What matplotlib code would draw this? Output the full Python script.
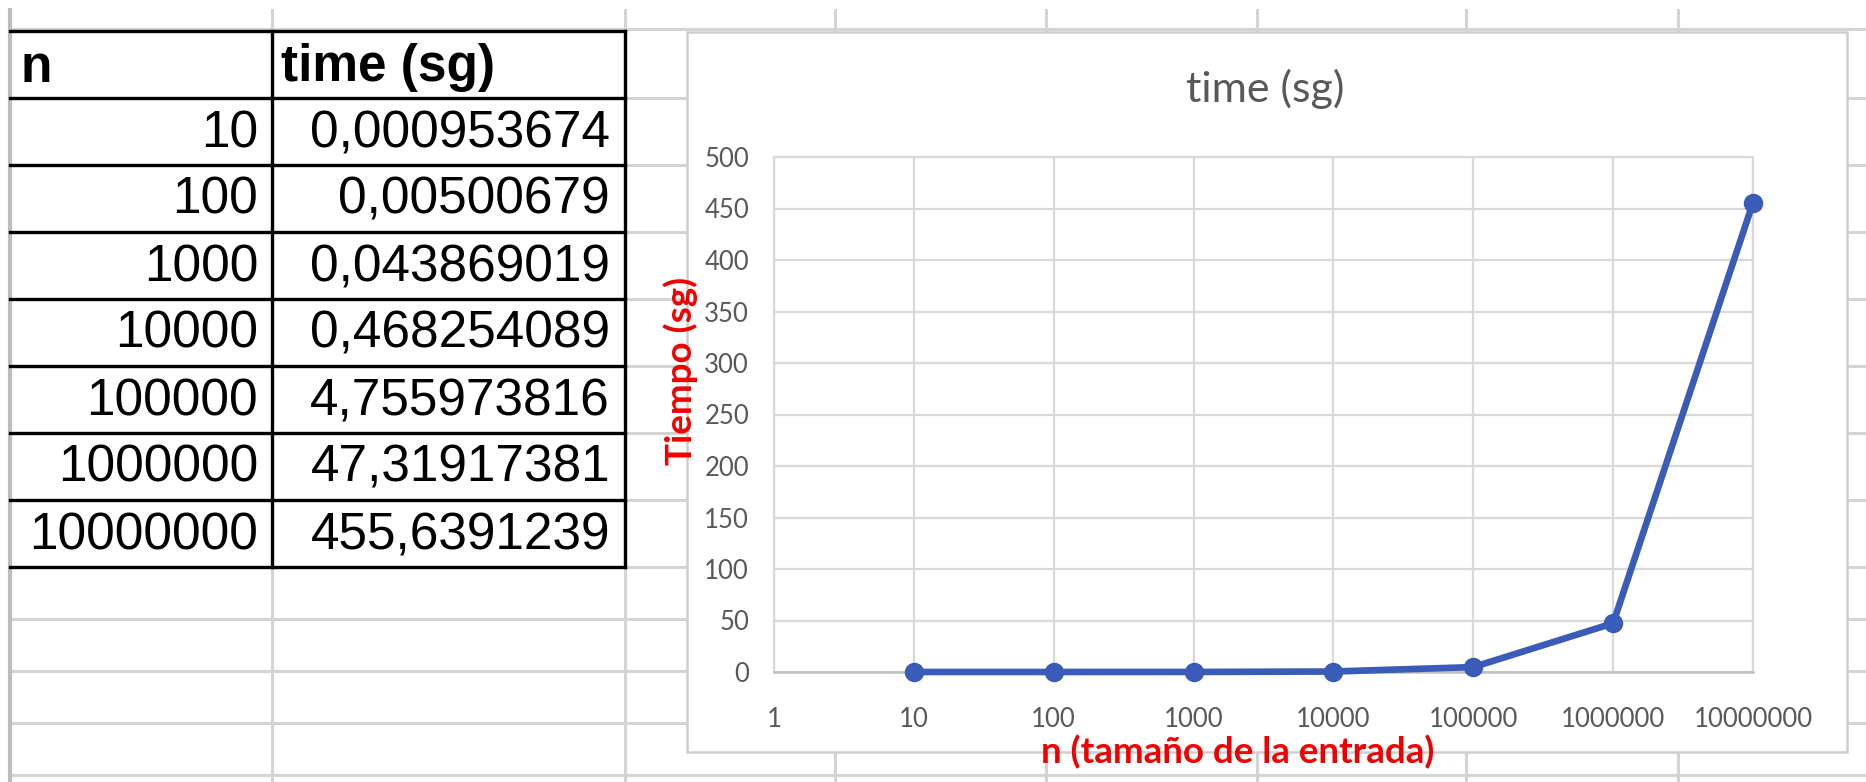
import numpy as np
import matplotlib.pyplot as plt
from matplotlib.patches import Rectangle
from matplotlib.ticker import NullLocator

# Data from the spreadsheet
n_vals = [10, 100, 1000, 10000, 100000, 1000000, 10000000]
time_sg = [0.000953674, 0.00500679, 0.043869019, 0.468254089,
           4.755973816, 47.31917381, 455.6391239]
time_txt = ['0,000953674', '0,00500679', '0,043869019', '0,468254089',
            '4,755973816', '47,31917381', '455,6391239']
x_ticks = [1, 10, 100, 1000, 10000, 100000, 1000000, 10000000]
x_tick_labels = ['1', '10', '100', '1000', '10000', '100000', '1000000', '10000000']
y_ticks = [0, 50, 100, 150, 200, 250, 300, 350, 400, 450, 500]

W, H = 1866, 782
fig = plt.figure(figsize=(W / 100, H / 100), dpi=100)

# Background: the spreadsheet grid (pixel coordinates)
bg = fig.add_axes([0, 0, 1, 1])
bg.set_xlim(0, W)
bg.set_ylim(H, 0)
bg.axis('off')

grid_c = '#d4d4d4'
row_y = [29, 98, 165, 232, 299, 366, 433, 500, 567, 619, 671, 723, 775]
col_x = [272, 625, 835, 1046, 1257, 1466, 1678]
for y in row_y:
    bg.plot([9.5, W], [y, y], color=grid_c, lw=2.2, zorder=1)
for x in col_x:
    bg.plot([x, x], [10, H], color=grid_c, lw=2.2, zorder=1)
bg.plot([9.5, 9.5], [10, H], color='#bdbdbd', lw=3, zorder=1)

# Table borders
tab_rows = [31, 98, 165, 232, 299, 366, 433, 500, 567]
for y in tab_rows:
    bg.plot([9.5, 625], [y, y], color='black', lw=2.4, zorder=2)
for x in [272, 625]:
    bg.plot([x, x], [31, 567], color='black', lw=2.4, zorder=2)

tfont = 'Liberation Sans'
bg.text(20, 68, 'n', fontsize=37, fontweight='bold', family=tfont, va='center', zorder=3)
bg.text(281, 68, 'time (sg)', fontsize=37, fontweight='bold', family=tfont, va='center', zorder=3)
for i in range(len(n_vals)):
    yc = (tab_rows[i + 1] + tab_rows[i + 2]) / 2 + 2
    bg.text(258, yc, str(n_vals[i]), fontsize=37, family=tfont, ha='right', va='center', zorder=3)
    bg.text(610, yc, time_txt[i], fontsize=37, family=tfont, ha='right', va='center', zorder=3)

# Chart box
bg.add_patch(Rectangle((687, 32), 1160, 720, facecolor='white', edgecolor='#cfcfcf', lw=1.8, zorder=5))

# Chart
ax = fig.add_axes([774 / W, 1 - 672 / H, 979 / W, 515 / H])
ax.set_facecolor('none')
ax.set_xscale('log')
ax.set_xlim(1, 1e7)
ax.set_ylim(0, 500)
ax.plot(n_vals, time_sg, color='#3a5cb8', lw=4.8, marker='o', markersize=13,
        solid_joinstyle='round', clip_on=False, zorder=4)
ax.set_xticks(x_ticks)
ax.set_xticklabels(x_tick_labels)
ax.xaxis.set_minor_locator(NullLocator())
ax.set_yticks(y_ticks)
ax.grid(color='#d9d9d9', lw=1.6)
ax.set_axisbelow(True)
for s in ['left', 'top', 'right']:
    ax.spines[s].set_color('#d9d9d9')
    ax.spines[s].set_linewidth(1.6)
ax.spines['bottom'].set_color('#bfbfbf')
ax.spines['bottom'].set_linewidth(1.8)
ax.tick_params(length=0, labelsize=18.5, labelcolor='#595959')
ax.tick_params(axis='x', pad=25)
ax.tick_params(axis='y', pad=18)
for lab in ax.get_xticklabels() + ax.get_yticklabels():
    lab.set_family('Lato')

fig.text(1265 / W, 1 - 89 / H, 'time (sg)', fontsize=31, color='#595959',
         family='Lato', ha='center', va='center')
fig.text(1238 / W, 1 - 752 / H, 'n (tamaño de la entrada)', fontsize=26.5, color='#f00000',
         fontweight='bold', family='Lato', ha='center', va='center')
fig.text(681 / W, 1 - 371 / H, 'Tiempo (sg)', fontsize=26.5, color='#f00000', rotation=90,
         fontweight='bold', family='Lato', ha='center', va='center')

fig.savefig('out.png', dpi=100)
